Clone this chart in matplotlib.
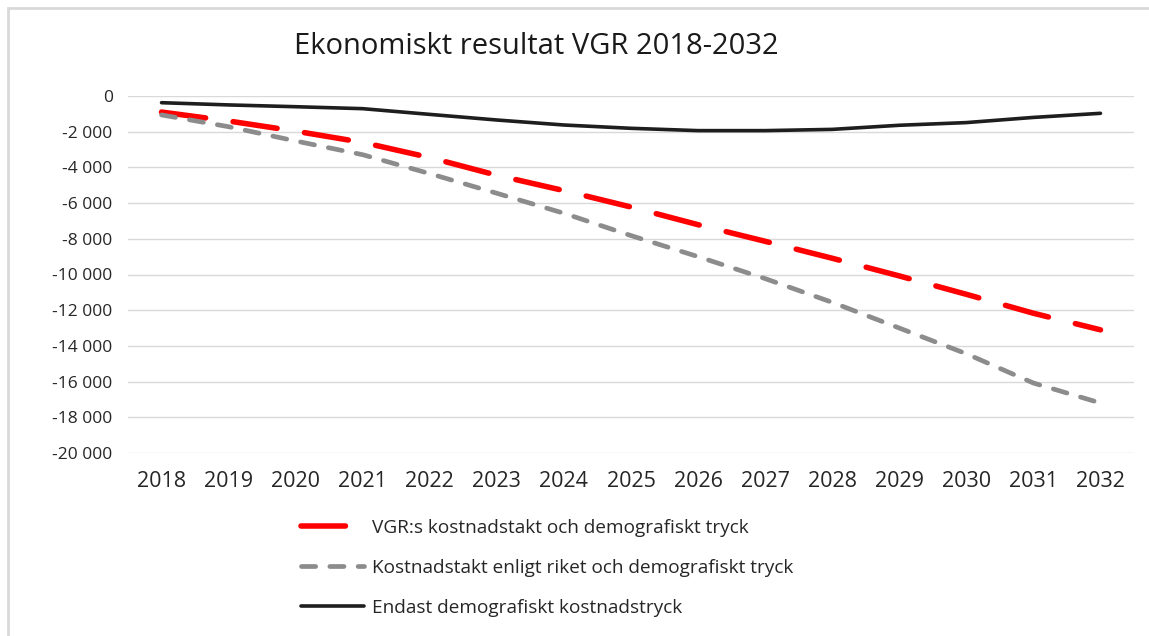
import matplotlib.pyplot as plt
import matplotlib.ticker as mticker
from matplotlib.patches import Rectangle

# === Data (MSEK) ===
years = ['2018', '2019', '2020', '2021', '2022', '2023', '2024', '2025',
         '2026', '2027', '2028', '2029', '2030', '2031', '2032']
vgr_tak = [-900, -1400, -1970, -2600, -3450, -4440, -5300, -6220,
           -7210, -8140, -9090, -10080, -11110, -12170, -13100]
riket_tak = [-1060, -1720, -2520, -3290, -4350, -5450, -6570, -7820,
             -9000, -10230, -11560, -13000, -14440, -16080, -17200]
endast_demo = [-375, -500, -600, -710, -1030, -1345, -1625, -1810,
               -1940, -1940, -1870, -1640, -1490, -1200, -970]

labels = ['VGR:s kostnadstakt och demografiskt tryck',
          'Kostnadstakt enligt riket och demografiskt tryck',
          'Endast demografiskt kostnadstryck']
yticks = list(range(-20000, 1, 2000))

plt.rcParams['font.family'] = ['Open Sans', 'DejaVu Sans']

fig = plt.figure(figsize=(11.49, 6.36), dpi=100)
ax = fig.add_axes([128 / 1149, 1 - 453 / 636, (1134 - 128) / 1149, (453 - 96) / 636])

x = list(range(len(years)))
l1, = ax.plot(x, vgr_tak, color='#ff0000', linewidth=4.0,
              dashes=(8.0, 5.0), dash_capstyle='round', zorder=3)
l2, = ax.plot(x, riket_tak, color='#8c8c8c', linewidth=3.4,
              dashes=(3.0, 3.0), dash_capstyle='round', zorder=3)
l3, = ax.plot(x, endast_demo, color='#1e1e1e', linewidth=2.6,
              solid_capstyle='round', zorder=4)

ax.set_xlim(-0.5, len(years) - 0.5)
ax.set_ylim(-20000, 0)
ax.set_xticks(x)
ax.set_xticklabels(years, fontsize=15.5, color='#262626')
ax.set_yticks(yticks)
ax.yaxis.set_major_formatter(mticker.FuncFormatter(
    lambda v, p: f"{int(v):,}".replace(',', ' ')))
ax.tick_params(axis='y', labelsize=12.5, colors='#262626', length=0, pad=11)
ax.tick_params(axis='x', length=0, pad=13)
ax.grid(axis='y', color='#d9d9d9', linewidth=1.0)
ax.set_axisbelow(True)
for s in ax.spines.values():
    s.set_visible(False)

fig.text(536 / 1149, 1 - 46 / 636, 'Ekonomiskt resultat VGR 2018-2032',
         ha='center', va='center', fontsize=21, color='#1a1a1a')

leg = fig.legend([l1, l2, l3], labels, loc='upper left',
                 bbox_to_anchor=(284 / 1149, 1 - 502 / 636),
                 frameon=False, fontsize=13.7, handlelength=3.3,
                 handletextpad=0.4, labelspacing=1.15)
for t in leg.get_texts():
    t.set_color('#262626')

# light frame around the chart
fig.patches.append(Rectangle((8 / 1149, -0.1), 1.2, 1.1 - 8 / 636,
                             transform=fig.transFigure, fill=False,
                             edgecolor='#d9d9d9', linewidth=2))

fig.savefig('out.png', dpi=100)
